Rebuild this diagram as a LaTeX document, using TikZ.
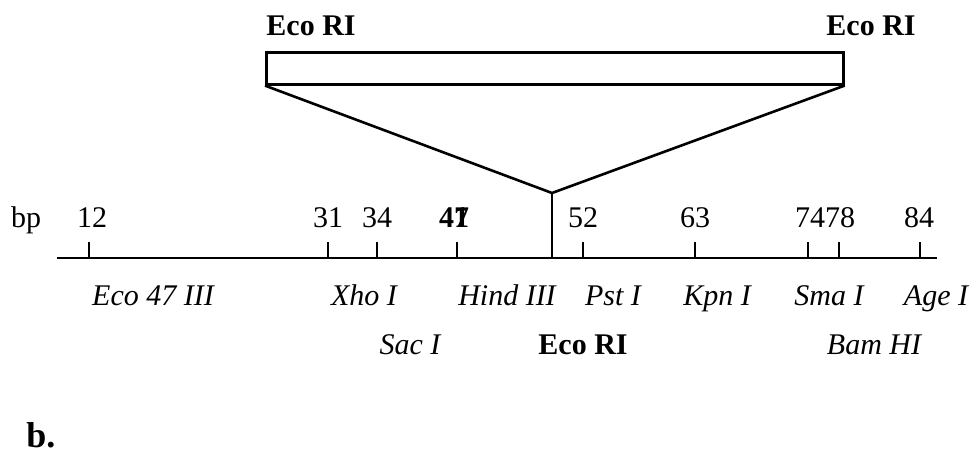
\documentclass[tikz,border=0pt]{standalone}
\usepackage{fontspec}
\setmainfont{Liberation Serif}

\begin{document}
\begin{tikzpicture}[x=1pt,y=-1pt,line width=2.6pt,
    num/.style={anchor=base,inner sep=0pt,font=\fontsize{30}{32}\selectfont},
    site/.style={anchor=base,inner sep=0pt,font=\fontsize{30}{32}\selectfont\itshape},
    ecolbl/.style={anchor=base,inner sep=0pt,font=\fontsize{30}{32}\selectfont\bfseries}]
    \useasboundingbox (0,0) rectangle (977,453);
    % insert fragment
    \node[draw,line width=2.6pt,anchor=north west,inner sep=0pt,
          minimum width=577pt,minimum height=32pt] (insert) at (265,51) {};
    \node[ecolbl] (ecoleft) at (311,35) {Eco RI};
    \node[ecolbl] (ecoright) at (871,35) {Eco RI};
    \coordinate (apex) at (552,193);
    \coordinate (cut) at (552,258);
    \draw (insert.south west) -- (apex) -- (insert.south east);
    \draw (apex) -- (cut);
    % map
    \coordinate (mapstart) at (57,258);
    \coordinate (mapend) at (937,258);
    \draw (mapstart) -- (mapend);
    \foreach \x/\n in {89/12,328/31,377/34,457/47,583/52,695/63,808/74,839/78,920/84}{
      \coordinate (t\n) at (\x,258);
      \draw (t\n) -- ++(0,-16);
    }
    \node[num] (bp) at (26,227) {bp};
    \node[num] (n12) at (92,227) {12};
    \node[num] (n31) at (328,227) {31};
    \node[num] (n34) at (377,227) {34};
    \node[num,font=\fontsize{30}{32}\selectfont\bfseries] (n47) at (454,227) {4\rlap{1}7};
    \node[num] (n52) at (583,227) {52};
    \node[num] (n63) at (695,227) {63};
    \node[num] (n7478) at (825,227) {7478};
    \node[num] (n84) at (919,227) {84};
    % sites
    \node[site] (eco47) at (153,305) {Eco 47 III};
    \node[site] (xho) at (364,305) {Xho I};
    \node[site] (hind) at (507,305) {Hind III};
    \node[site] (pst) at (613,305) {Pst I};
    \node[site] (kpn) at (717,305) {Kpn I};
    \node[site] (sma) at (829,305) {Sma I};
    \node[site] (age) at (936,305) {Age I};
    \node[site] (sac) at (410,354) {Sac I};
    \node[ecolbl] (ecocut) at (583,354) {Eco RI};
    \node[site] (bam) at (874,354) {Bam HI};
    \node[anchor=base west,inner sep=0pt,font=\fontsize{36}{38}\selectfont\bfseries] (panel) at (25,447) {b.};
\end{tikzpicture}
\end{document}
